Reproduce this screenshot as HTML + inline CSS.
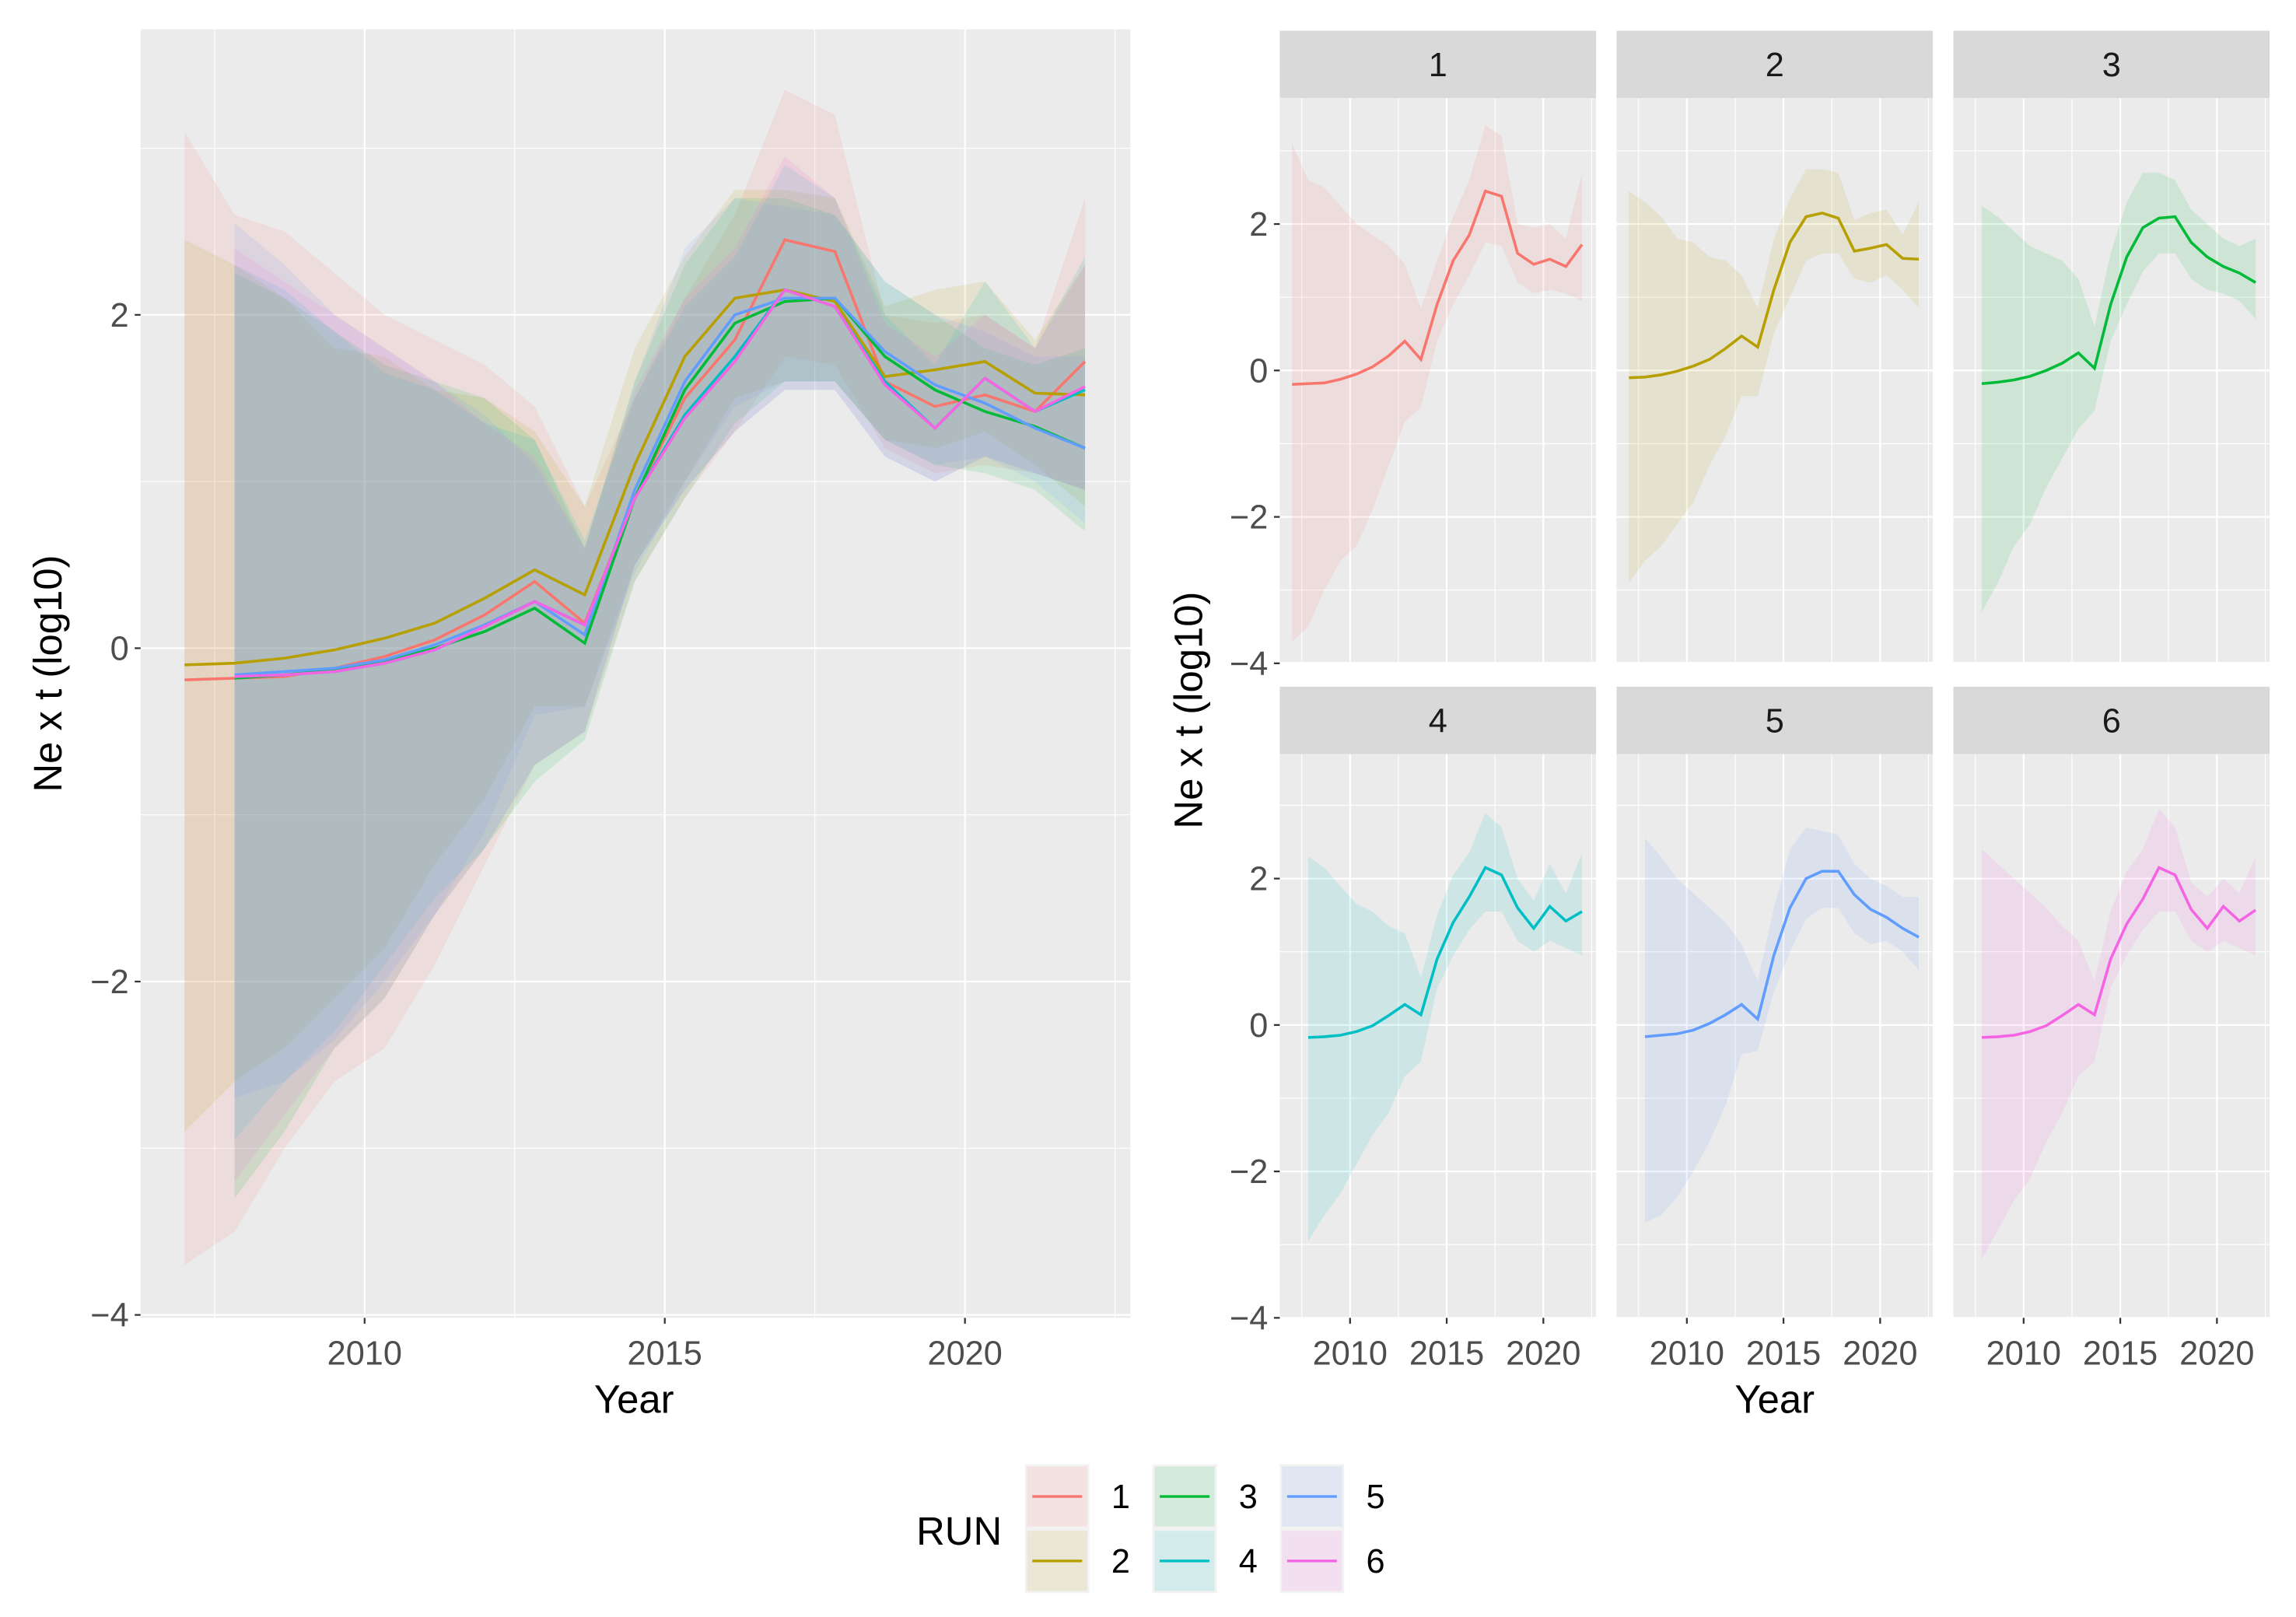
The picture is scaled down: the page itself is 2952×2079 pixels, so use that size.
<!DOCTYPE html>
<html><head><meta charset="utf-8"><style>
html,body{margin:0;padding:0;background:#fff;}
svg{display:block;font-family:"Liberation Sans",Arial,sans-serif;}
</style></head><body>
<svg id="chart" width="2952" height="2079" viewBox="0 0 1568 1104.3" preserveAspectRatio="none" xmlns="http://www.w3.org/2000/svg"></svg>
<script>
const runs = ["1","2","3","4","5","6"];
const colors = ["#F8766D","#B79F00","#00BA38","#00BFC4","#619CFF","#F564E3"];
const nPts = 19;
const times = Array.from({length:nPts},(_,i)=>2007+i*15/18);
const xTicks = [2010,2015,2020];
const yTicks = [-4,-2,0,2];
const yTickLabels = ["\u22124","\u22122","0","2"];
const mid1 = [-0.19,-0.18,-0.17,-0.12,-0.05,0.05,0.2,0.4,0.15,0.9,1.5,1.85,2.45,2.38,1.6,1.45,1.52,1.42,1.72];
const mid2 = [-0.1,-0.09,-0.06,-0.01,0.06,0.15,0.3,0.47,0.32,1.1,1.75,2.1,2.15,2.08,1.63,1.67,1.72,1.53,1.52];
const mid3 = [null,-0.18,-0.16,-0.13,-0.08,0.0,0.1,0.24,0.03,0.9,1.55,1.95,2.08,2.1,1.75,1.55,1.42,1.33,1.2];
const mid4 = [null,-0.17,-0.16,-0.14,-0.09,-0.01,0.13,0.28,0.14,0.9,1.4,1.75,2.15,2.05,1.6,1.32,1.62,1.42,1.55];
const mid5 = [null,-0.16,-0.14,-0.12,-0.07,0.02,0.14,0.28,0.08,0.95,1.6,2.0,2.1,2.1,1.78,1.58,1.47,1.32,1.2];
const mid6 = [null,-0.17,-0.16,-0.14,-0.09,-0.01,0.13,0.28,0.14,0.9,1.38,1.72,2.15,2.05,1.58,1.32,1.62,1.42,1.57];
const up1 = [3.1,2.6,2.5,2.25,2.0,1.85,1.7,1.45,0.85,1.5,2.1,2.6,3.35,3.2,2.0,1.95,2.0,1.8,2.7];
const lo1 = [-3.7,-3.5,-3.0,-2.6,-2.4,-1.9,-1.3,-0.7,-0.5,0.4,0.9,1.3,1.75,1.7,1.2,1.05,1.1,1.05,0.95];
const up2 = [2.45,2.3,2.1,1.8,1.75,1.55,1.5,1.3,0.85,1.8,2.35,2.75,2.75,2.7,2.05,2.15,2.2,1.85,2.3];
const lo2 = [-2.9,-2.6,-2.4,-2.1,-1.8,-1.3,-0.9,-0.35,-0.35,0.5,1.0,1.5,1.6,1.6,1.25,1.2,1.3,1.1,0.85];
const up3 = [null,2.25,2.1,1.9,1.7,1.6,1.5,1.25,0.6,1.6,2.3,2.7,2.7,2.6,2.2,2.0,1.8,1.7,1.8];
const lo3 = [null,-3.3,-2.9,-2.4,-2.1,-1.6,-1.2,-0.8,-0.55,0.4,0.9,1.35,1.6,1.6,1.25,1.1,1.05,0.95,0.7];
const up4 = [null,2.3,2.15,1.9,1.65,1.55,1.35,1.25,0.65,1.5,2.05,2.35,2.9,2.7,2.0,1.7,2.2,1.8,2.35];
const lo4 = [null,-2.95,-2.6,-2.3,-1.9,-1.5,-1.2,-0.7,-0.5,0.5,0.95,1.3,1.55,1.55,1.15,1.0,1.15,1.05,0.95];
const up5 = [null,2.55,2.3,2.0,1.8,1.6,1.4,1.1,0.6,1.6,2.4,2.7,2.65,2.6,2.2,2.0,1.9,1.75,1.75];
const lo5 = [null,-2.7,-2.6,-2.35,-2.0,-1.6,-1.1,-0.4,-0.35,0.45,1.0,1.45,1.6,1.6,1.25,1.1,1.15,1.0,0.75];
const up6 = [null,2.4,2.2,2.0,1.8,1.6,1.35,1.15,0.6,1.55,2.1,2.4,2.95,2.7,1.95,1.75,2.0,1.8,2.3];
const lo6 = [null,-3.2,-2.8,-2.4,-2.1,-1.6,-1.2,-0.7,-0.5,0.5,0.95,1.3,1.55,1.55,1.15,1.0,1.15,1.05,0.95];
const mids=[mid1,mid2,mid3,mid4,mid5,mid6], ups=[up1,up2,up3,up4,up5,up6], los=[lo1,lo2,lo3,lo4,lo5,lo6];

const svg=document.getElementById('chart');
const NS="http://www.w3.org/2000/svg";
const TICK_FS=23, TITLE_FS=27, ALPHA=0.12;
function mk(tag,attrs,parent){const e=document.createElementNS(NS,tag);for(const k in attrs)e.setAttribute(k,attrs[k]);(parent||svg).appendChild(e);return e;}
function txt(s,attrs,parent){const e=mk('text',attrs,parent);e.textContent=s;return e;}

function panel(name,x0,x1,y0,y1,xmin,xmax,ymin,ymax,runIdx,showY,showX){
  const g=mk('g',{});
  
  
  const sx=v=>x0+(v-xmin)/(xmax-xmin)*(x1-x0);
  const sy=v=>y1-(v-ymin)/(ymax-ymin)*(y1-y0);
  const bg=mk('rect',{x:x0,y:y0,width:x1-x0,height:y1-y0,fill:'#EBEBEB'},g);
  
  
  [-3,-1,1,3].forEach(v=>mk('line',{x1:x0,x2:x1,y1:sy(v),y2:sy(v),stroke:'#fff','stroke-width':0.6},g));
  [2007.5,2012.5,2017.5,2022.5].forEach(v=>{if(v<xmax)mk('line',{x1:sx(v),x2:sx(v),y1:y0,y2:y1,stroke:'#fff','stroke-width':0.6},g);});
  yTicks.forEach(v=>mk('line',{x1:x0,x2:x1,y1:sy(v),y2:sy(v),stroke:'#fff','stroke-width':1.2},g));
  xTicks.forEach(v=>mk('line',{x1:sx(v),x2:sx(v),y1:y0,y2:y1,stroke:'#fff','stroke-width':1.2},g));
  runIdx.forEach(r=>{
    const top=[],bot=[];
    for(let i=0;i<nPts;i++){if(ups[r][i]==null)continue;top.push(sx(times[i])+','+sy(ups[r][i]));bot.unshift(sx(times[i])+','+sy(los[r][i]));}
    const p=mk('polygon',{points:top.concat(bot).join(' '),fill:colors[r],'fill-opacity':ALPHA},g);
    
    
  });
  runIdx.forEach(r=>{
    const pts=[];
    for(let i=0;i<nPts;i++){if(mids[r][i]==null)continue;pts.push(sx(times[i])+','+sy(mids[r][i]));}
    const l=mk('polyline',{points:pts.join(' '),fill:'none',stroke:colors[r],'stroke-width':1.9},g);
    
    
  });
  if(showX){
    xTicks.forEach(v=>{
      mk('line',{x1:sx(v),x2:sx(v),y1:y1,y2:y1+4,stroke:'#333','stroke-width':1.2},g);
      const t=txt(String(v),{x:sx(v),y:y1+32,'text-anchor':'middle','font-size':TICK_FS,fill:'#4D4D4D'},g);
      
      
    });
  }
  if(showY){
    yTicks.forEach((v,i)=>{
      mk('line',{x1:x0-4,x2:x0,y1:sy(v),y2:sy(v),stroke:'#333','stroke-width':1.2},g);
      const t=txt(yTickLabels[i],{x:x0-8,y:sy(v)+8,'text-anchor':'end','font-size':TICK_FS,fill:'#4D4D4D'},g);
      
      
    });
  }
  return g;
}

panel('main-panel',96,772,20,900,2010-(249-96)/41,2010+(772-249)/41,-4-(900-898)/113.83,-4+(898-20)/113.83,[0,1,2,3,4,5],true,true);
let t=txt('Ne x t (log10)',{x:42,y:460,'text-anchor':'middle','font-size':TITLE_FS,fill:'#000',transform:'rotate(-90 42 460)'});


t=txt('Year',{x:433,y:965,'text-anchor':'middle','font-size':TITLE_FS,fill:'#000'});



const colX=[874,1104,1334], rowY=[[21,67,452],[469,515,900]];
for(let k=0;k<6;k++){
  const c=k%3, r=Math.floor(k/3);
  const x0=colX[c], x1=x0+216, s0=rowY[r][0], y0=rowY[r][1], y1=rowY[r][2];
  const st=mk('rect',{x:x0,y:s0,width:216,height:y0-s0,fill:'#D9D9D9'});
  
  
  const stt=txt(runs[k],{x:x0+108,y:s0+31,'text-anchor':'middle','font-size':TICK_FS,fill:'#1A1A1A'});
  
  
  const ymn=-4-(y1-(r?900:453))/50;
  panel('facet-panel-'+runs[k],x0,x1,y0,y1,2010-48/13.2,2010+(216-48)/13.2,ymn,ymn+(y1-y0)/50,[k],c===0,r===1);
}
t=txt('Ne x t (log10)',{x:821,y:485,'text-anchor':'middle','font-size':TITLE_FS,fill:'#000',transform:'rotate(-90 821 485)'});


t=txt('Year',{x:1212,y:965,'text-anchor':'middle','font-size':TITLE_FS,fill:'#000'});



const lg=mk('g',{});


t=txt('RUN',{x:655,y:1055,'text-anchor':'middle','font-size':TITLE_FS,fill:'#000'},lg);


for(let k=0;k<6;k++){
  const c=Math.floor(k/2), r=k%2;
  const kx=700+c*87, ky=1000+r*44;
  const e=mk('g',{},lg);
  
  
  mk('rect',{x:kx,y:ky,width:44,height:44,fill:'#F2F2F2'},e);
  mk('rect',{x:kx+1.5,y:ky+1.5,width:41,height:41,fill:colors[k],'fill-opacity':ALPHA},e);
  mk('line',{x1:kx+5,x2:kx+39,y1:ky+22,y2:ky+22,stroke:colors[k],'stroke-width':1.8},e);
  txt(runs[k],{x:kx+59,y:ky+30,'font-size':TICK_FS,fill:'#000'},e);
}
</script>
</body></html>
